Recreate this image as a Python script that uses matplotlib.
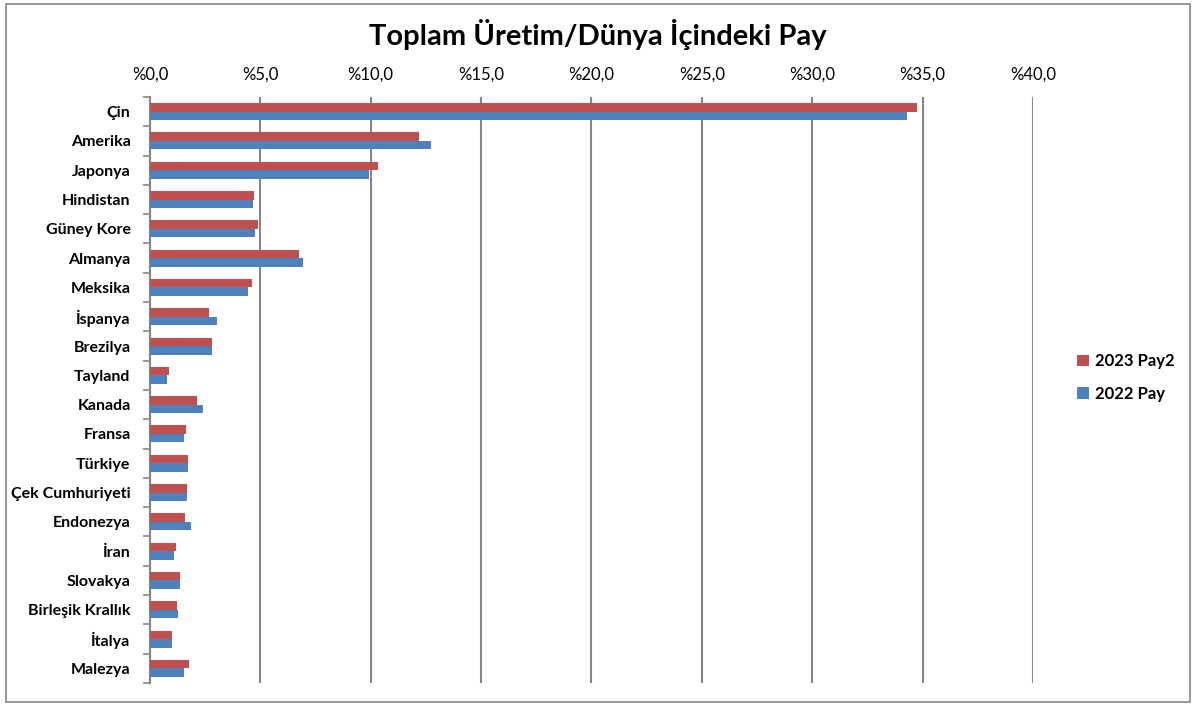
import numpy as np
import matplotlib
matplotlib.use("Agg")
import matplotlib.pyplot as plt
from matplotlib.patches import Rectangle

plt.rcParams["font.family"] = ["Lato", "DejaVu Sans"]

countries = ["Çin", "Amerika", "Japonya", "Hindistan", "Güney Kore", "Almanya",
             "Meksika", "İspanya", "Brezilya", "Tayland", "Kanada", "Fransa",
             "Türkiye", "Çek Cumhuriyeti", "Endonezya", "İran", "Slovakya",
             "Birleşik Krallık", "İtalya", "Malezya"]
pay_2023 = [34.73, 12.2, 10.34, 4.73, 4.88, 6.73, 4.6, 2.66, 2.81, 0.84,
            2.11, 1.63, 1.74, 1.69, 1.6, 1.18, 1.34, 1.22, 1.0, 1.77]
pay_2022 = [34.28, 12.75, 9.9, 4.65, 4.76, 6.93, 4.45, 3.02, 2.81, 0.75,
            2.38, 1.52, 1.74, 1.69, 1.86, 1.1, 1.34, 1.27, 1.0, 1.52]
xticks = [0, 5, 10, 15, 20, 25, 30, 35, 40]

red = "#C0504D"
blue = "#4F81BD"
grid_col = "#868686"

fig = plt.figure(figsize=(11.96, 7.06), dpi=100)
fig.patches.append(Rectangle((0.005, 0.006), 0.99, 0.988, transform=fig.transFigure,
                             fill=False, edgecolor=grid_col, linewidth=1.2))

ax = fig.add_axes([0.1254, 0.0326, 0.7383, 0.83])
y = np.arange(len(countries))
h = 0.29
ax.barh(y - h / 2, pay_2023, height=h, color=red, label="2023 Pay2", zorder=3)
ax.barh(y + h / 2, pay_2022, height=h, color=blue, label="2022 Pay", zorder=3)

ax.set_xlim(0, 40)
ax.set_ylim(len(countries) - 0.5, -0.5)
ax.xaxis.tick_top()
ax.set_xticks(xticks)
ax.set_xticklabels([f"%{v:.1f}".replace(".", ",") for v in xticks], fontsize=12)
ax.tick_params(axis="x", length=0, pad=10)
ax.grid(axis="x", color=grid_col, linewidth=1.5, zorder=0)

ax.set_yticks(y)
ax.set_yticklabels(countries, fontsize=11.5, fontweight="bold")
ax.set_yticks(np.arange(-0.5, len(countries)), minor=True)
ax.tick_params(axis="y", which="major", length=0, pad=14)
ax.tick_params(axis="y", which="minor", length=5, color=grid_col, width=1.2)

for side in ["top", "right", "bottom"]:
    ax.spines[side].set_visible(False)
ax.spines["left"].set_color(grid_col)
ax.spines["left"].set_linewidth(1.5)

fig.text(0.5, 0.951, "Toplam Üretim/Dünya İçindeki Pay", ha="center", va="center",
         fontsize=21, fontweight="bold")

fig.legend(loc="center left", bbox_to_anchor=(0.888, 0.465), frameon=False,
           prop={"weight": "bold", "size": 12}, handlelength=0.7, handleheight=0.7,
           labelspacing=1.0, handletextpad=0.4)

fig.savefig("out.png", dpi=100)
